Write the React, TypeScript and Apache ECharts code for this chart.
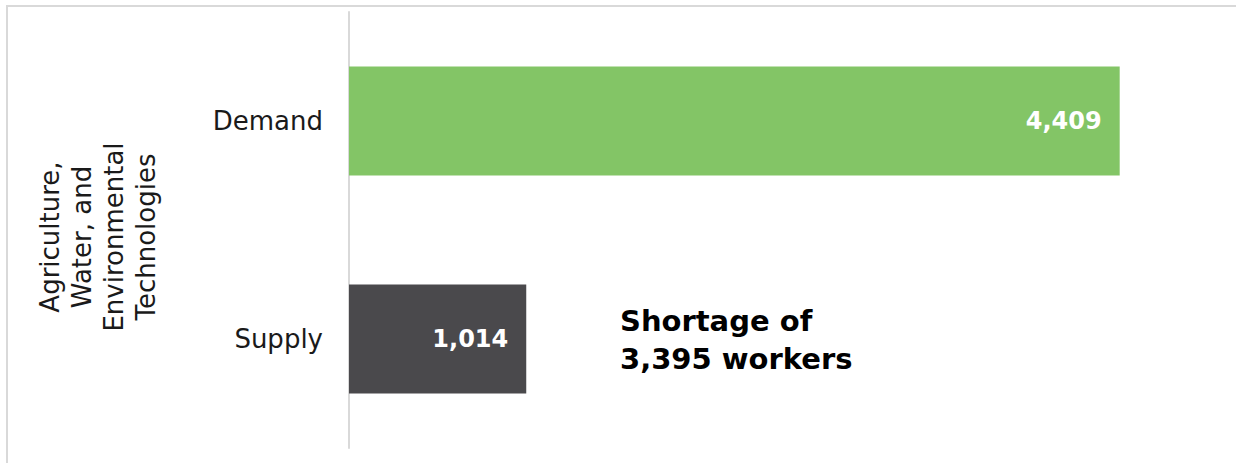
import React, { useEffect, useRef } from "react";
import * as echarts from "echarts";

const categories = ["Demand", "Supply"];
const values = [4409, 1014];
const barColors = ["#83c566", "#4a494c"];
const axisName = "Agriculture,\nWater, and\nEnvironmental\nTechnologies";
const shortage = values[0] - values[1];
const FONT = "DejaVu Sans";

export default function App() {
  const ref = useRef<HTMLDivElement>(null);
  useEffect(() => {
    if (!ref.current) return;
    const chart = echarts.init(ref.current, undefined, { renderer: "svg" });
    chart.setOption({
      animation: false,
      backgroundColor: "#ffffff",
      grid: { left: 349, right: 13, top: 12, bottom: 15, containLabel: false },
      xAxis: {
        type: "value",
        min: 0,
        max: 5000,
        show: false,
      },
      yAxis: {
        type: "category",
        inverse: true,
        data: categories,
        name: axisName,
        nameLocation: "middle",
        nameRotate: 90,
        nameGap: 187,
        nameTextStyle: {
          fontFamily: FONT,
          fontSize: 26,
          color: "#1a1a1a",
          lineHeight: 32,
          align: "center",
          padding: [0, 14, 0, 0],
        },
        axisLine: { show: true, lineStyle: { color: "#d9d9d9", width: 2 } },
        axisTick: { show: false },
        axisLabel: { fontFamily: FONT, fontSize: 26, color: "#1a1a1a", margin: 26 },
      },
      series: [
        {
          type: "bar",
          barWidth: 109,
          data: values.map((v, i) => ({ value: v, itemStyle: { color: barColors[i] } })),
          label: {
            show: true,
            position: "insideRight",
            distance: 18,
            color: "#ffffff",
            fontFamily: FONT,
            fontWeight: "bold",
            fontSize: 24,
            formatter: (p: any) => p.value.toLocaleString("en-US"),
          },
        },
      ],
      graphic: [
        {
          type: "rect",
          shape: { x: 7, y: 6, width: 1300, height: 520 },
          style: { fill: "none", stroke: "#d9d9d9", lineWidth: 2 },
          silent: true,
        },
        {
          type: "text",
          left: 620,
          top: 302,
          style: {
            text: `Shortage of\n${shortage.toLocaleString("en-US")} workers`,
            fontFamily: FONT,
            fontWeight: "bold",
            fontSize: 29,
            lineHeight: 38,
            fill: "#000000",
          },
        },
      ],
    });
    return () => chart.dispose();
  }, []);
  return (
    <div
      ref={ref}
      style={{ position: "fixed", left: 0, top: 0, width: 1236, height: 463 }}
    />
  );
}
